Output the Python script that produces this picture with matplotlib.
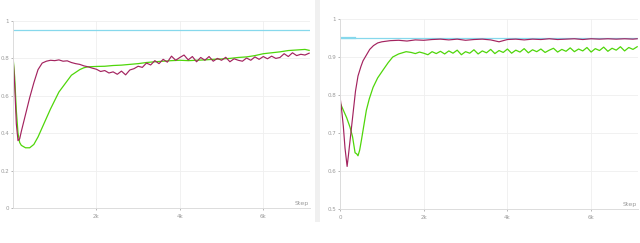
import numpy as np
import matplotlib
matplotlib.use("Agg")
from matplotlib import pyplot as plt

# ---- left panel data (step in thousands) ----
left_ref = 0.952

lp_step = [0, 0.04, 0.08, 0.12, 0.16, 0.2, 0.3, 0.4, 0.5, 0.6, 0.7, 0.8, 0.9, 1.0,
           1.1, 1.2, 1.3, 1.4, 1.5, 1.6, 1.7, 1.8, 1.9, 2.0, 2.1, 2.2, 2.3, 2.4, 2.5,
           2.6, 2.7, 2.8, 2.9, 3.0, 3.1, 3.2, 3.3, 3.4, 3.5, 3.6, 3.7, 3.8, 3.9, 4.0,
           4.1, 4.2, 4.3, 4.4, 4.5, 4.6, 4.7, 4.8, 4.9, 5.0, 5.1, 5.2, 5.3, 5.4, 5.5,
           5.6, 5.7, 5.8, 5.9, 6.0, 6.1, 6.2, 6.3, 6.4, 6.5, 6.6, 6.7, 6.8, 6.9, 7.0, 7.1]
lp_val = [0.81, 0.66, 0.45, 0.36, 0.37, 0.41, 0.50, 0.59, 0.67, 0.74, 0.775, 0.785, 0.79, 0.788,
          0.792, 0.785, 0.787, 0.778, 0.772, 0.768, 0.760, 0.755, 0.748, 0.742, 0.730, 0.735, 0.722, 0.728, 0.715,
          0.732, 0.712, 0.738, 0.745, 0.758, 0.752, 0.775, 0.765, 0.788, 0.772, 0.795, 0.780, 0.812, 0.790, 0.805,
          0.818, 0.792, 0.810, 0.782, 0.805, 0.790, 0.810, 0.785, 0.800, 0.790, 0.806, 0.782, 0.798, 0.790, 0.785,
          0.802, 0.790, 0.808, 0.795, 0.810, 0.798, 0.812, 0.800, 0.805, 0.825, 0.810, 0.830, 0.815, 0.822, 0.818, 0.828]

lg_step = [0, 0.04, 0.08, 0.12, 0.16, 0.2, 0.3, 0.4, 0.5, 0.6, 0.7, 0.8, 0.9, 1.0,
           1.1, 1.2, 1.3, 1.4, 1.5, 1.6, 1.7, 1.8, 2.0, 2.2, 2.4, 2.6, 2.8, 3.0, 3.2,
           3.4, 3.6, 3.8, 4.0, 4.2, 4.4, 4.6, 4.8, 5.0, 5.2, 5.4, 5.6, 5.8, 6.0, 6.2,
           6.4, 6.6, 6.8, 7.0, 7.1]
lg_val = [0.81, 0.70, 0.52, 0.40, 0.35, 0.335, 0.322, 0.322, 0.34, 0.38, 0.43, 0.48, 0.53, 0.575,
          0.62, 0.65, 0.68, 0.71, 0.725, 0.74, 0.75, 0.755, 0.757, 0.758, 0.762, 0.764, 0.768, 0.772, 0.778,
          0.782, 0.785, 0.788, 0.790, 0.788, 0.790, 0.792, 0.795, 0.797, 0.800, 0.805, 0.808, 0.815, 0.825, 0.830,
          0.835, 0.842, 0.845, 0.848, 0.843]

# ---- right panel data ----
right_ref = 0.949

rp_step = [0, 0.04, 0.08, 0.12, 0.17, 0.2, 0.24, 0.28, 0.32, 0.37, 0.43, 0.5, 0.55, 0.63,
           0.71, 0.8, 0.9, 1.0, 1.2, 1.4, 1.6, 1.8, 2.0, 2.2, 2.4, 2.6, 2.8, 3.0, 3.2,
           3.4, 3.6, 3.8, 4.0, 4.2, 4.4, 4.6, 4.8, 5.0, 5.2, 5.4, 5.6, 5.8, 6.0, 6.2,
           6.4, 6.6, 6.8, 7.0, 7.1]
rp_val = [0.796, 0.76, 0.717, 0.66, 0.612, 0.64, 0.68, 0.72, 0.76, 0.81, 0.85, 0.875, 0.89, 0.905,
          0.92, 0.93, 0.937, 0.940, 0.943, 0.944, 0.942, 0.945, 0.944, 0.946, 0.947, 0.945, 0.947, 0.944, 0.946,
          0.947, 0.945, 0.940, 0.946, 0.947, 0.945, 0.947, 0.946, 0.948, 0.946, 0.947, 0.948, 0.946, 0.948, 0.947,
          0.948, 0.947, 0.948, 0.947, 0.948]

rg_step = [0, 0.08, 0.16, 0.24, 0.3, 0.36, 0.4, 0.43, 0.47, 0.51, 0.57, 0.63, 0.7, 0.79,
           0.9, 1.03, 1.15, 1.26, 1.4, 1.58, 1.7, 1.8, 1.9, 2.0, 2.1, 2.2, 2.3, 2.4, 2.5,
           2.6, 2.7, 2.8, 2.9, 3.0, 3.1, 3.2, 3.3, 3.4, 3.5, 3.6, 3.7, 3.8, 3.9, 4.0,
           4.1, 4.2, 4.3, 4.4, 4.5, 4.6, 4.7, 4.8, 4.9, 5.0, 5.1, 5.2, 5.3, 5.4, 5.5,
           5.6, 5.7, 5.8, 5.9, 6.0, 6.1, 6.2, 6.3, 6.4, 6.5, 6.6, 6.7, 6.8, 6.9, 7.0, 7.1]
rg_val = [0.78, 0.76, 0.74, 0.715, 0.69, 0.648, 0.645, 0.64, 0.655, 0.68, 0.72, 0.76, 0.79, 0.82,
          0.845, 0.866, 0.885, 0.90, 0.908, 0.914, 0.912, 0.909, 0.913, 0.910, 0.906, 0.914, 0.909, 0.915, 0.908,
          0.916, 0.910, 0.918, 0.906, 0.914, 0.910, 0.919, 0.908, 0.916, 0.911, 0.920, 0.909, 0.917, 0.912, 0.921,
          0.910, 0.918, 0.913, 0.922, 0.911, 0.919, 0.914, 0.921, 0.912, 0.918, 0.923, 0.913, 0.920, 0.915, 0.924,
          0.914, 0.921, 0.916, 0.925, 0.913, 0.922, 0.917, 0.926, 0.915, 0.923, 0.918, 0.927, 0.916, 0.925, 0.920, 0.927]

CYAN = '#86d8ec'
PURPLE = '#a3235f'
GREEN = '#4fd60a'
GRID = '#efefef'
TXT = '#9a9a9a'

fig = plt.figure(figsize=(6.4, 2.43), dpi=100)
fig.patch.set_facecolor('white')


def style(ax, yticks, ylabels, xticks, xlabels, ylim):
    ax.set_xlim(0, 7.12)
    ax.set_ylim(*ylim)
    ax.set_yticks(yticks)
    ax.set_yticklabels(ylabels)
    ax.set_xticks(xticks)
    ax.set_xticklabels(xlabels)
    ax.grid(True, color=GRID, lw=0.6)
    ax.set_axisbelow(True)
    for s in ['top', 'right']:
        ax.spines[s].set_visible(False)
    for s in ['left', 'bottom']:
        ax.spines[s].set_color('#dcdcdc')
        ax.spines[s].set_linewidth(0.7)
    ax.tick_params(labelsize=4, colors=TXT, length=1.5, width=0.5, pad=1.2)
    ax.tick_params(axis='x', pad=3)
    ax.text(0.995, 0.012, 'Step', transform=ax.transAxes, ha='right', va='bottom',
            fontsize=4.5, color=TXT)


ax1 = fig.add_axes([13 / 640, 35 / 243, 297 / 640, 187 / 243])
ax1.axhline(left_ref, color=CYAN, lw=0.9)
ax1.plot(lg_step, lg_val, color=GREEN, lw=0.9)
ax1.plot(lp_step, lp_val, color=PURPLE, lw=0.85)
style(ax1, [0, 0.2, 0.4, 0.6, 0.8, 1], ['0', '0.2', '0.4', '0.6', '0.8', '1'],
      [2, 4, 6], ['2k', '4k', '6k'], (0, 1))

ax2 = fig.add_axes([340 / 640, 34 / 243, 298 / 640, 190 / 243])
ax2.axhline(right_ref, color=CYAN, lw=0.9)
ax2.plot([0, 0.35], [right_ref, right_ref], color=CYAN, lw=1.6)
ax2.plot(rg_step, rg_val, color=GREEN, lw=0.9)
ax2.plot(rp_step, rp_val, color=PURPLE, lw=0.85)
style(ax2, [0.5, 0.6, 0.7, 0.8, 0.9, 1], ['0.5', '0.6', '0.7', '0.8', '0.9', '1'],
      [0, 2, 4, 6], ['0', '2k', '4k', '6k'], (0.5, 1))

# grey divider between the two screenshots
fig.add_artist(plt.Rectangle((315 / 640, 21 / 243), 5 / 640, 222 / 243,
                             transform=fig.transFigure, color='#f0f0f0', lw=0))

fig.savefig('out.png', dpi=100)
